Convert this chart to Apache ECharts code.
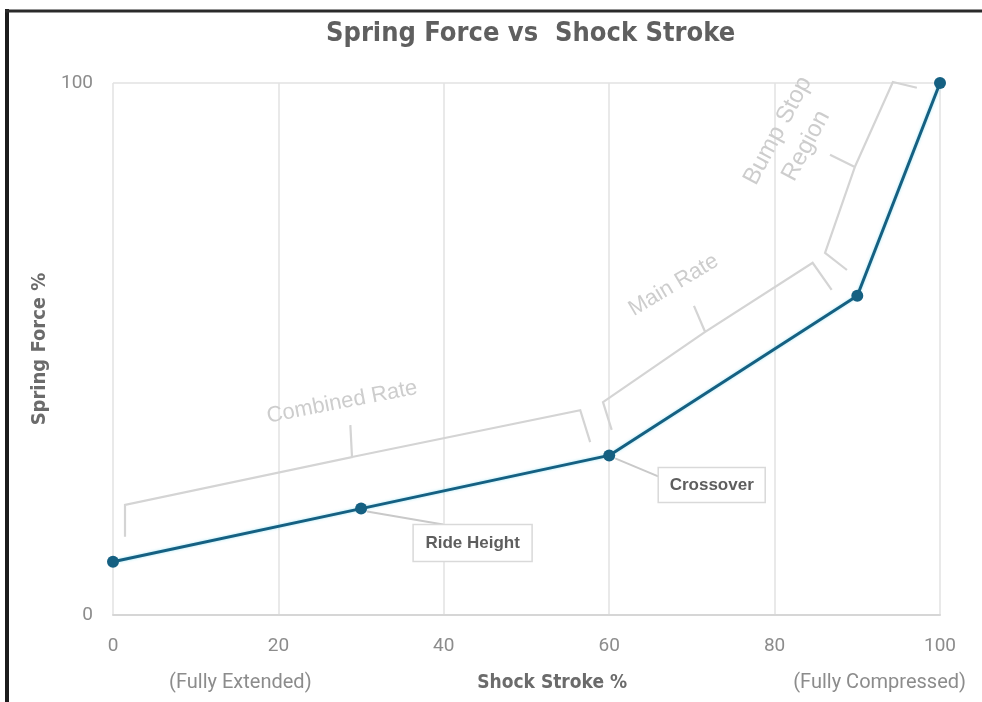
<!DOCTYPE html>
<html>
<head>
<meta charset="utf-8">
<script src="https://cdn.jsdelivr.net/npm/echarts@6/dist/echarts.min.js"></script>
<style>
  html, body { margin: 0; padding: 0; background: #ffffff; }
  #chart { width: 982px; height: 702px; }
</style>
</head>
<body>
<div id="chart"></div>
<script>
// Shock stroke (%) against spring force (%)
const strokePct = [0, 30, 60, 90, 100];
const forcePct = [10, 20, 30, 60, 100];
const yTickValues = [0, 100];
const xTickStep = 20;

const titleText = 'Spring Force vs  Shock Stroke';
const xAxisName = 'Shock Stroke %';
const yAxisName = 'Spring Force %';
const strokeEndNotes = ['(Fully Extended)', '(Fully Compressed)'];

// Callouts attached to individual points (index into the series)
const pointNotes = [
  { index: 1, text: 'Ride Height' },
  { index: 2, text: 'Crossover' }
];

// Curly-brace regions along the curve, expressed in axis units
const braceNames = ['Combined Rate', 'Main Rate', 'Bump Stop\nRegion'];
const braceShapes = [
  [[1.45, 14.7], [1.45, 20.7], [28.9, 29.7], [28.7, 35.7], [28.9, 29.7], [56.5, 38.5], [57.7, 32.5]],
  [[60.3, 34.8], [59.25, 40.0], [71.6, 53.2], [70.25, 58.1], [71.6, 53.2], [84.6, 66.2], [86.9, 61.1]],
  [[88.75, 64.85], [86.1, 68.05], [89.7, 84.2], [86.7, 86.5], [89.7, 84.2], [94.3, 100.2], [97.2, 99.1]]
];
const braceTextAt = [[27.7, 40.0], [67.8, 62.0], [82.1, 89.6]];
const braceTextAngle = [11, 31, 62];
const braceTextSize = [22, 22, 24];

const ACCENT = '#156082';
const GRID_COLOR = '#e2e2e2';
const TICK_COLOR = '#8c8c8c';
const NAME_COLOR = '#6b6b6b';
const BRACE_COLOR = '#d4d4d4';
const CONDENSED = '"DejaVu Sans Condensed", "Liberation Sans Narrow", sans-serif';

const chart = echarts.init(document.getElementById('chart'), null, { renderer: 'canvas' });

const option = {
  animation: false,
  backgroundColor: '#ffffff',
  title: {
    text: titleText,
    left: 321,
    top: 15,
    textStyle: {
      fontFamily: CONDENSED,
      fontSize: 27,
      fontWeight: 'bold',
      color: '#5f5f5f'
    }
  },
  grid: { left: 113, right: 42, top: 83, bottom: 87 },
  xAxis: {
    type: 'value',
    min: 0,
    max: 100,
    interval: xTickStep,
    axisLine: { show: true, lineStyle: { color: '#d6d6d6', width: 2 } },
    axisTick: { show: false },
    axisLabel: { margin: 22, color: TICK_COLOR, fontSize: 19, fontFamily: 'Roboto, sans-serif' },
    splitLine: { show: true, lineStyle: { color: GRID_COLOR, width: 1.5 } }
  },
  yAxis: {
    type: 'value',
    min: yTickValues[0],
    max: yTickValues[yTickValues.length - 1],
    interval: yTickValues[1] - yTickValues[0],
    name: yAxisName,
    nameLocation: 'middle',
    nameGap: 57,
    nameTextStyle: {
      fontFamily: CONDENSED,
      fontSize: 20,
      fontWeight: 'bold',
      color: NAME_COLOR
    },
    axisLine: { show: false },
    axisTick: { show: false },
    axisLabel: { margin: 20, color: TICK_COLOR, fontSize: 19, fontFamily: 'Roboto, sans-serif' },
    splitLine: { show: true, lineStyle: { color: GRID_COLOR, width: 1.5 } }
  },
  series: [{
    type: 'line',
    data: strokePct.map((x, i) => [x, forcePct[i]]),
    symbol: 'circle',
    symbolSize: 12,
    z: 5,
    lineStyle: {
      color: ACCENT,
      width: 3,
      shadowColor: 'rgba(90, 210, 235, 0.55)',
      shadowBlur: 3
    },
    itemStyle: { color: ACCENT }
  }]
};

chart.setOption(option);

const toPx = (x, y) => chart.convertToPixel({ gridIndex: 0 }, [x, y]);
const gfx = [];

// Outer frame strokes on the left and top edges
gfx.push({ type: 'line', shape: { x1: 7, y1: 9, x2: 7, y2: 702 }, style: { stroke: '#1c1c1c', lineWidth: 4 }, z: 100 });
gfx.push({ type: 'line', shape: { x1: 5, y1: 11, x2: 982, y2: 11 }, style: { stroke: '#2a2a2a', lineWidth: 3 }, z: 100 });

// Braces and their captions
braceShapes.forEach((shape, i) => {
  gfx.push({
    type: 'polyline',
    shape: { points: shape.map(p => toPx(p[0], p[1])) },
    style: { stroke: BRACE_COLOR, lineWidth: 2.2, fill: null, lineJoin: 'miter' },
    z: 2
  });
  const c = toPx(braceTextAt[i][0], braceTextAt[i][1]);
  gfx.push({
    type: 'text',
    x: c[0],
    y: c[1],
    rotation: braceTextAngle[i] * Math.PI / 180,
    style: {
      text: braceNames[i],
      fill: '#cdcdcd',
      font: 'normal ' + braceTextSize[i] + 'px "Liberation Sans", Arial, sans-serif',
      align: 'center',
      verticalAlign: 'middle',
      lineHeight: 32
    },
    z: 2
  });
});

// Boxed point callouts with leader lines
const noteOffsets = [[111.5, 34.5], [102.5, 29.5]];
const noteBoxes = [[119, 37], [107, 35]];
pointNotes.forEach((note, i) => {
  const p = toPx(strokePct[note.index], forcePct[note.index]);
  const cx = p[0] + noteOffsets[i][0];
  const cy = p[1] + noteOffsets[i][1];
  const w = noteBoxes[i][0], h = noteBoxes[i][1];
  const end = i === 0 ? [cx - w / 2 + 30, cy - h / 2] : [cx - w / 2, cy - h / 2 + 9];
  gfx.push({
    type: 'polyline',
    shape: { points: [[p[0] + 6, p[1] + 3], end] },
    style: { stroke: '#c9c9c9', lineWidth: 2, fill: null },
    z: 3
  });
  gfx.push({
    type: 'rect',
    shape: { x: cx - w / 2, y: cy - h / 2, width: w, height: h },
    style: { fill: '#ffffff', stroke: '#d9d9d9', lineWidth: 1.5 },
    z: 3
  });
  gfx.push({
    type: 'text',
    x: cx,
    y: cy,
    style: {
      text: note.text,
      fill: '#5e5e5e',
      font: 'bold 17px "Liberation Sans", Arial, sans-serif',
      align: 'center',
      verticalAlign: 'middle'
    },
    z: 4
  });
});

// Bottom captions: stroke axis title and the two travel extremes
const axisBottom = toPx(0, 0)[1];
const captionY = axisBottom + 68;
const extremes = [toPx(15.4, 0)[0], toPx(92.7, 0)[0]];
strokeEndNotes.forEach((t, i) => {
  gfx.push({
    type: 'text',
    x: extremes[i],
    y: captionY,
    style: {
      text: t,
      fill: TICK_COLOR,
      font: 'normal 20px Roboto, sans-serif',
      align: 'center',
      verticalAlign: 'middle'
    },
    z: 4
  });
});
gfx.push({
  type: 'text',
  x: toPx(53.1, 0)[0],
  y: captionY,
  style: {
    text: xAxisName,
    fill: NAME_COLOR,
    font: 'bold 19px ' + CONDENSED,
    align: 'center',
    verticalAlign: 'middle'
  },
  z: 4
});

chart.setOption({ graphic: gfx });
</script>
</body>
</html>
